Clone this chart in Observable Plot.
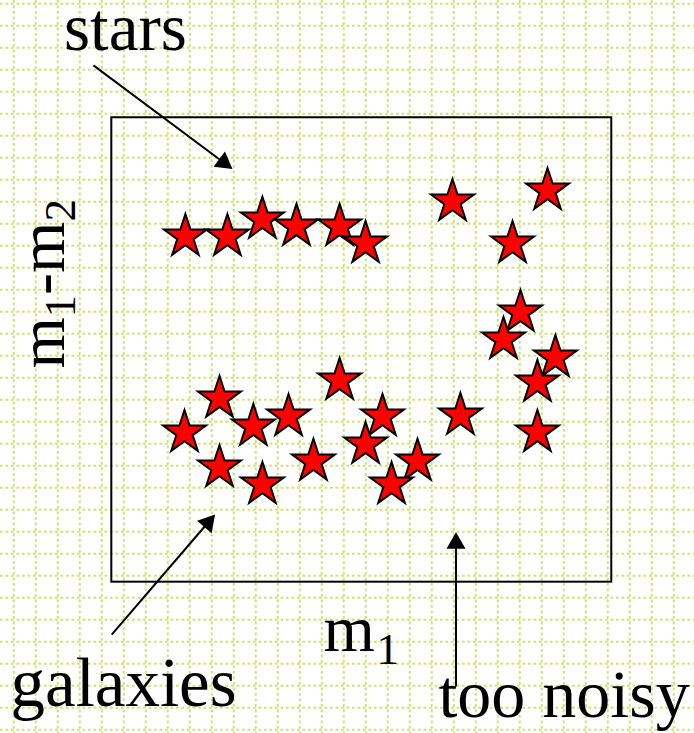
<!DOCTYPE html>
<html>
<head>
<meta charset="utf-8">
<script src="https://cdn.jsdelivr.net/npm/d3@7"></script>
<script src="https://cdn.jsdelivr.net/npm/@observablehq/plot@0.6"></script>
<style>
  html, body { margin: 0; padding: 0; background: white; }
</style>
</head>
<body>
<div id="chart"></div>
<script>
// Units: one grid cell = 1 unit on both axes (m1 horizontal, m1-m2 vertical)
const starX = [7.80, 9.71, 11.30, 12.85, 14.81, 15.99,
               19.94, 24.26, 22.67, 23.03, 22.26, 24.62, 23.80, 20.30, 23.80,
               14.81, 9.35, 12.49, 10.89, 7.76, 16.76, 15.99, 13.62, 9.35, 18.35, 11.30, 17.17];
const starY = [22.42, 22.42, 23.20, 22.88, 22.88, 22.10,
               24.01, 24.51, 22.10, 18.97, 17.74, 16.92, 15.79, 14.29, 13.51,
               15.88, 15.06, 14.24, 13.79, 13.51, 14.24, 12.97, 12.20, 11.92, 12.20, 11.15, 11.15];

// Selection box in the m1 / m1-m2 plane
const boxX = [4.455, 27.18];
const boxY = [6.71, 27.82];

// Annotation arrows: start and tip
const arrowLabels = ["stars", "galaxies", "too noisy"];
const arrowX1 = [3.62, 4.45, 20.10];
const arrowY1 = [30.20, 4.33, 1.97];
const arrowX2 = [9.94, 9.15, 20.10];
const arrowY2 = [25.49, 9.79, 8.98];

// Text labels
const labelText = ["stars", "galaxies", "too noisy"];
const labelX = [2.28, -0.15, 19.30];
const labelY = [30.88, 1.10, 0.57];
const labelSize = [67, 69, 68];

const gridXTicks = d3.range(0, 31);
const gridYTicks = d3.range(0, 34);

const stars = starX.map((x, i) => ({x, y: starY[i]}));
const arrows = arrowLabels.map((name, i) => {
  const dx = arrowX2[i] - arrowX1[i], dy = arrowY2[i] - arrowY1[i];
  const len = Math.hypot(dx, dy);
  const back = 11 / 22; // triangle centroid offset from tip (in cell units)
  return {
    name,
    x1: arrowX1[i], y1: arrowY1[i], x2: arrowX2[i], y2: arrowY2[i],
    hx: arrowX2[i] - dx / len * back,
    hy: arrowY2[i] - dy / len * back,
    angle: Math.atan2(dx, dy) * 180 / Math.PI
  };
});
const labels = labelText.map((t, i) => ({t, x: labelX[i], y: labelY[i], s: labelSize[i]}));

const font = "Liberation Serif, Times New Roman, serif";
const gridStyle = {stroke: "#d0e272", strokeOpacity: 1, strokeWidth: 2, strokeDasharray: "2.7,2.8"};

const plot = Plot.plot({
  width: 694,
  height: 733,
  margin: 0,
  style: {background: "white", fontFamily: font},
  x: {domain: [-13.3 / 22, (694 - 13.3) / 22], axis: null},
  y: {domain: [33 - (733 - 3.3) / 22, 33 + 3.3 / 22], axis: null},
  marks: [
    Plot.gridX({ticks: gridXTicks, ...gridStyle}),
    Plot.gridY({ticks: gridYTicks, ...gridStyle}),
    Plot.rect([{x1: boxX[0], x2: boxX[1], y1: boxY[0], y2: boxY[1]}],
      {x1: "x1", x2: "x2", y1: "y1", y2: "y2", fill: "none", stroke: "black", strokeWidth: 2}),
    Plot.dot(stars, {x: "x", y: "y", symbol: "star", r: 13.5, fill: "#ff0000", stroke: "black", strokeWidth: 2}),
    Plot.link(arrows, {x1: "x1", y1: "y1", x2: "hx", y2: "hy", stroke: "black", strokeWidth: 2}),
    Plot.dot(arrows, {x: "hx", y: "hy", symbol: "triangle", r: 7.07, rotate: "angle", fill: "black", stroke: "none"}),
    Plot.text(labels, {x: "x", y: "y", text: "t", textAnchor: "start", lineAnchor: "bottom",
      fontSize: "s", fill: "black", fontFamily: font}),
    // horizontal axis label m1
    Plot.text(["m"], {x: [14.08], y: [3.60], textAnchor: "start", lineAnchor: "bottom", fontSize: 66, fontFamily: font}),
    Plot.text(["1"], {x: [16.49], y: [3.01], textAnchor: "start", lineAnchor: "bottom", fontSize: 45, fontFamily: font}),
    // vertical axis label m1-m2
    Plot.text(["m"], {x: [2.26], y: [16.42], rotate: -90, textAnchor: "start", lineAnchor: "bottom", fontSize: 66, fontFamily: font}),
    Plot.text(["1"], {x: [2.80], y: [18.74], rotate: -90, textAnchor: "start", lineAnchor: "bottom", fontSize: 45, fontFamily: font}),
    Plot.text(["-m"], {x: [2.26], y: [19.76], rotate: -90, textAnchor: "start", lineAnchor: "bottom", fontSize: 66, fontFamily: font}),
    Plot.text(["2"], {x: [2.80], y: [23.10], rotate: -90, textAnchor: "start", lineAnchor: "bottom", fontSize: 45, fontFamily: font})
  ]
});
document.getElementById("chart").appendChild(plot);
</script>
</body>
</html>
